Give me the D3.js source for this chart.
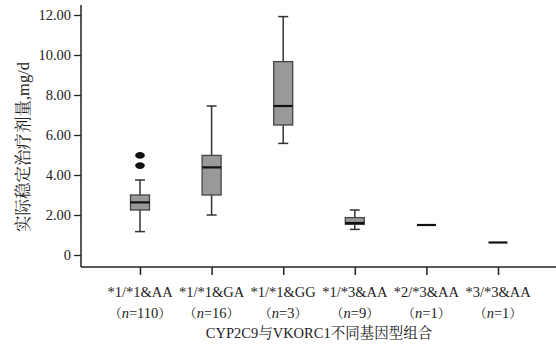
<!DOCTYPE html>
<html><head><meta charset="utf-8">
<script src="https://cdn.jsdelivr.net/npm/d3@7"></script>
<style>
body{margin:0;background:#fff;}
svg text{fill:#222;}
</style></head>
<body><svg id="c" width="556" height="347"></svg>
<script>
const categories = ["*1/*1&AA","*1/*1&GA","*1/*1&GG","*1/*3&AA","*2/*3&AA","*3/*3&AA"];
const nValues = [110,16,3,9,1,1];
const whiskerLow  = [1.17,2.00,5.58,1.28,1.50,0.625];
const q1          = [2.25,3.00,6.50,1.53,1.50,0.625];
const median      = [2.63,4.38,7.45,1.60,1.50,0.625];
const q3          = [3.00,4.98,9.67,1.87,1.50,0.625];
const whiskerHigh = [3.75,7.45,11.92,2.25,1.50,0.625];
const outliers    = [[4.47,4.98],[],[],[],[],[]];
const yTicks = [0,2,4,6,8,10,12];

const svg = d3.select("#c");
const y = d3.scaleLinear().domain([0,12]).range([255,15]);
const x = d3.scalePoint().domain(categories).range([140,498]);
const axisY = 267, axisX = 81;
const serif = '"Liberation Serif","Noto Serif CJK SC",serif';
const cjk = '"Noto Serif CJK SC","Liberation Serif",serif';

// y axis
const ya = svg.append("g").attr("transform",`translate(${axisX},0)`)
  .call(d3.axisLeft(y).tickValues(yTicks).tickSize(7).tickPadding(3)
  .tickFormat(d=> d===0 ? "0" : d3.format(".2f")(d)));
ya.select(".domain").remove();
ya.selectAll("line").attr("stroke","#222").attr("stroke-width",1.3);
ya.selectAll("text").style("font-size","14.5px").style("font-family",serif);
svg.append("line").attr("x1",axisX).attr("x2",axisX).attr("y1",5).attr("y2",axisY)
  .attr("stroke","#222").attr("stroke-width",1.5);

// x axis
svg.append("line").attr("x1",axisX).attr("x2",556).attr("y1",axisY).attr("y2",axisY)
  .attr("stroke","#222").attr("stroke-width",1.5);
const xa = svg.append("g").attr("transform",`translate(0,${axisY})`)
  .call(d3.axisBottom(x).tickSize(8).tickFormat(""));
xa.select(".domain").remove();
xa.selectAll("line").attr("stroke","#222").attr("stroke-width",1.5);

categories.forEach((c,i)=>{
  svg.append("text").attr("x",x(c)).attr("y",297).attr("text-anchor","middle")
    .style("font-family",serif).style("font-size","14.5px").text(c);
  const t2 = svg.append("text").attr("x",x(c)).attr("y",318).attr("text-anchor","middle")
    .style("font-family",serif).style("font-size","14.5px");
  t2.append("tspan").style("font-family",cjk).style("font-size","13px").text("（");
  t2.append("tspan").style("font-style","italic").text("n");
  t2.append("tspan").text("="+nValues[i]);
  t2.append("tspan").style("font-family",cjk).style("font-size","13px").text("）");
});
svg.append("text").attr("x",319).attr("y",338).attr("text-anchor","middle")
  .style("font-family",serif)
  .style("font-size","14.5px").text("CYP2C9与VKORC1不同基因型组合");
const yl = svg.append("text").attr("transform","translate(29,147) rotate(-90)")
  .attr("text-anchor","middle").style("font-size","16.5px");
yl.append("tspan").style("font-family",cjk).text("实际稳定治疗剂量");
yl.append("tspan").style("font-family",serif).text(",mg/d");

// boxes
const bw = 19, cap = 10;
const g = svg.append("g");
categories.forEach((c,i)=>{
  const cx = x(c);
  const flat = q1[i]===q3[i];
  if(!flat){
    g.append("line").attr("x1",cx).attr("x2",cx).attr("y1",y(whiskerHigh[i])).attr("y2",y(q3[i]))
      .attr("stroke","#333").attr("stroke-width",1.5);
    g.append("line").attr("x1",cx).attr("x2",cx).attr("y1",y(q1[i])).attr("y2",y(whiskerLow[i]))
      .attr("stroke","#333").attr("stroke-width",1.5);
    [whiskerHigh[i],whiskerLow[i]].forEach(v=>{
      g.append("line").attr("x1",cx-cap/2).attr("x2",cx+cap/2).attr("y1",y(v)).attr("y2",y(v))
        .attr("stroke","#333").attr("stroke-width",1.5);
    });
    g.append("rect").attr("x",cx-bw/2).attr("width",bw).attr("y",y(q3[i]))
      .attr("height",y(q1[i])-y(q3[i])).attr("fill","#999999").attr("stroke","#444").attr("stroke-width",1.3);
  }
  g.append("line").attr("x1",cx-bw/2).attr("x2",cx+bw/2).attr("y1",y(median[i])).attr("y2",y(median[i]))
    .attr("stroke","#111").attr("stroke-width",2.2);
  outliers[i].forEach(v=>{
    g.append("ellipse").attr("cx",cx).attr("cy",y(v)).attr("rx",4.8).attr("ry",3.4).attr("fill","#111");
  });
});
</script></body></html>
